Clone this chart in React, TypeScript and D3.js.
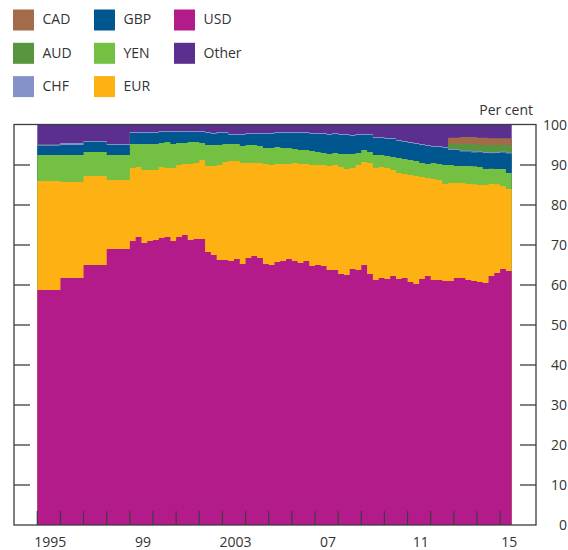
import React from "react";
import * as d3 from "d3";

const periods = [
  "1995", "1996", "1997", "1998",
  "1999Q1", "1999Q2", "1999Q3", "1999Q4", "2000Q1", "2000Q2", "2000Q3", "2000Q4",
  "2001Q1", "2001Q2", "2001Q3", "2001Q4", "2002Q1", "2002Q2", "2002Q3", "2002Q4",
  "2003Q1", "2003Q2", "2003Q3", "2003Q4", "2004Q1", "2004Q2", "2004Q3", "2004Q4",
  "2005Q1", "2005Q2", "2005Q3", "2005Q4", "2006Q1", "2006Q2", "2006Q3", "2006Q4",
  "2007Q1", "2007Q2", "2007Q3", "2007Q4", "2008Q1", "2008Q2", "2008Q3", "2008Q4",
  "2009Q1", "2009Q2", "2009Q3", "2009Q4", "2010Q1", "2010Q2", "2010Q3", "2010Q4",
  "2011Q1", "2011Q2", "2011Q3", "2011Q4", "2012Q1", "2012Q2", "2012Q3", "2012Q4",
  "2013Q1", "2013Q2", "2013Q3", "2013Q4", "2014Q1", "2014Q2", "2014Q3", "2014Q4",
  "2015Q1", "2015Q2",
];

const usd = [
  58.75, 61.75, 65.0, 69.0,
  71.0, 72.0, 70.5, 71.0, 71.25, 71.75, 72.0, 71.0,
  72.0, 72.5, 71.25, 71.5, 71.5, 68.25, 67.5, 66.25,
  66.25, 66.0, 66.5, 65.25, 66.75, 67.25, 66.75, 65.25,
  65.0, 65.75, 66.0, 66.5, 66.0, 65.5, 66.0, 64.75,
  65.0, 64.75, 63.75, 63.75, 62.75, 62.5, 64.0, 63.75,
  65.0, 62.75, 61.25, 61.75, 61.5, 62.25, 61.5, 61.75,
  60.75, 60.25, 61.5, 62.25, 61.25, 61.25, 61.0, 61.0,
  61.75, 61.75, 61.25, 61.0, 60.75, 60.5, 62.25, 63.0,
  64.0, 63.5,
];
const eur = [
  27.25, 24.0, 22.25, 17.25,
  18.25, 17.5, 18.25, 17.75, 17.5, 17.75, 17.25, 18.25,
  18.0, 17.75, 19.0, 19.0, 19.75, 21.5, 22.25, 23.75,
  24.5, 25.0, 24.5, 25.25, 23.75, 23.25, 23.75, 25.0,
  25.0, 24.5, 24.25, 23.75, 24.5, 24.75, 24.25, 25.25,
  25.0, 25.25, 26.0, 26.25, 26.75, 26.5, 25.25, 26.25,
  25.75, 27.75, 28.0, 27.75, 27.75, 26.5, 26.5, 26.0,
  26.75, 27.0, 25.5, 24.5, 25.25, 25.0, 24.25, 24.5,
  23.75, 23.75, 24.0, 24.2, 24.25, 24.5, 23.0, 22.2,
  20.75, 20.5,
];
const yen = [
  6.5, 6.75, 6.0, 6.25,
  6.0, 5.75, 6.5, 6.5, 6.5, 6.0, 6.5, 6.0,
  5.5, 5.25, 5.5, 5.25, 4.25, 5.25, 5.25, 5.0,
  4.5, 4.25, 4.25, 4.25, 4.5, 4.5, 4.25, 4.0,
  4.25, 4.25, 4.0, 4.0, 3.5, 3.5, 3.5, 3.5,
  3.25, 3.0, 3.0, 3.0, 3.25, 3.75, 3.5, 3.0,
  3.0, 2.75, 3.25, 3.0, 3.0, 3.25, 3.75, 3.75,
  3.75, 3.75, 3.5, 3.5, 4.0, 4.0, 4.75, 4.5,
  4.25, 4.25, 4.5, 4.5, 4.5, 4.0, 3.8, 3.8,
  4.25, 4.0,
];
const gbp = [
  2.3, 2.5, 2.5, 2.5,
  2.75, 2.75, 2.75, 2.75, 2.75, 2.75, 2.5, 3.0,
  2.75, 2.75, 2.5, 2.5, 2.75, 3.0, 2.75, 3.0,
  2.75, 2.25, 2.25, 2.75, 2.75, 2.75, 3.0, 3.5,
  3.5, 3.5, 3.75, 3.75, 4.0, 4.25, 4.25, 4.25,
  4.5, 4.75, 4.75, 4.75, 4.75, 4.75, 4.5, 4.5,
  3.75, 4.25, 4.25, 4.25, 4.25, 4.5, 4.25, 4.25,
  4.25, 4.25, 4.5, 4.5, 4.0, 4.25, 4.25, 3.75,
  4.0, 3.6, 3.6, 3.4, 3.7, 4.0, 3.9, 4.0,
  4.1, 4.9,
];
const chf = [
  0.25, 0.5, 0.25, 0.25,
  0.25, 0.25, 0.25, 0.25, 0.25, 0.25, 0.25, 0.25,
  0.25, 0.25, 0.25, 0.25, 0.25, 0.25, 0.25, 0.25,
  0.25, 0.25, 0.25, 0.25, 0.25, 0.25, 0.25, 0.25,
  0.25, 0.25, 0.25, 0.25, 0.25, 0.25, 0.25, 0.25,
  0.25, 0.25, 0.25, 0.25, 0.25, 0.25, 0.25, 0.25,
  0.25, 0.25, 0.25, 0.25, 0.25, 0.25, 0.25, 0.25,
  0.25, 0.25, 0.25, 0.25, 0.25, 0.25, 0.25, 0.25,
  0.25, 0.25, 0.25, 0.25, 0.25, 0.25, 0.25, 0.25,
  0.25, 0.25,
];
const aud = [
  0, 0, 0, 0,
  0, 0, 0, 0, 0, 0, 0, 0,
  0, 0, 0, 0, 0, 0, 0, 0,
  0, 0, 0, 0, 0, 0, 0, 0,
  0, 0, 0, 0, 0, 0, 0, 0,
  0, 0, 0, 0, 0, 0, 0, 0,
  0, 0, 0, 0, 0, 0, 0, 0,
  0, 0, 0, 0, 0, 0, 0, 1.33,
  1.33, 1.57, 1.57, 1.82, 1.55, 1.75, 1.8, 1.75,
  1.65, 1.85,
];
const cad = [
  0, 0, 0, 0,
  0, 0, 0, 0, 0, 0, 0, 0,
  0, 0, 0, 0, 0, 0, 0, 0,
  0, 0, 0, 0, 0, 0, 0, 0,
  0, 0, 0, 0, 0, 0, 0, 0,
  0, 0, 0, 0, 0, 0, 0, 0,
  0, 0, 0, 0, 0, 0, 0, 0,
  0, 0, 0, 0, 0, 0, 0, 1.5,
  1.5, 1.83, 1.83, 1.83, 1.83, 1.83, 1.67, 1.67,
  1.67, 1.67,
];
const other = [
  4.95, 4.5, 4.0, 4.75,
  1.75, 1.75, 1.75, 1.75, 1.75, 1.5, 1.5, 1.5,
  1.5, 1.5, 1.5, 1.5, 1.5, 1.75, 2.0, 1.75,
  1.75, 2.25, 2.25, 2.25, 2.0, 2.0, 2.0, 2.0,
  2.0, 1.75, 1.75, 1.75, 1.75, 1.75, 1.75, 2.0,
  2.0, 2.0, 2.25, 2.0, 2.25, 2.25, 2.5, 2.25,
  2.25, 2.25, 3.0, 3.0, 3.25, 3.25, 3.75, 4.0,
  4.25, 4.5, 4.75, 5.0, 5.25, 5.25, 5.5, 3.17,
  3.17, 3.0, 3.0, 3.0, 3.17, 3.17, 3.33, 3.33,
  3.33, 3.33,
];

const seriesKeys = ["USD", "EUR", "YEN", "GBP", "CHF", "AUD", "CAD", "Other"];
const seriesValues: Record<string, number[]> = {
  USD: usd, EUR: eur, YEN: yen, GBP: gbp, CHF: chf, AUD: aud, CAD: cad, Other: other,
};
const colors: Record<string, string> = {
  USD: "#B31B8B",
  EUR: "#FDB113",
  YEN: "#74C043",
  GBP: "#00568E",
  CHF: "#8592CA",
  AUD: "#58953F",
  CAD: "#A46B4B",
  Other: "#5B2F8F",
};
const legendRows = [["CAD", "GBP", "USD"], ["AUD", "YEN", "Other"], ["CHF", "EUR"]];

const yTicks = [0, 10, 20, 30, 40, 50, 60, 70, 80, 90, 100];
const xTickYears = d3.range(1995, 2016);
const xLabels = [
  { year: 1995, text: "1995" },
  { year: 1999, text: "99" },
  { year: 2003, text: "2003" },
  { year: 2007, text: "07" },
  { year: 2011, text: "11" },
  { year: 2015, text: "15" },
];

function periodSpan(p: string): [number, number] {
  const m = p.match(/^(\d{4})(?:Q(\d))?$/)!;
  const yr = +m[1];
  if (!m[2]) return [yr, yr + 1];
  const s = yr + (+m[2] - 1) / 4;
  return [s, s + 0.25];
}

export default function App() {
  const W = 568, H = 550;
  const left = 14, right = 536, top = 124.5, bottom = 525;
  const x = d3.scaleLinear().domain([1995, 2015.5]).range([37.3, 511.7]);
  const y = d3.scaleLinear().domain([0, 100]).range([525, 125]);

  const rows = periods.map((p, i) => {
    const r: any = { p };
    seriesKeys.forEach((k) => (r[k] = seriesValues[k][i]));
    return r;
  });
  const spans = periods.map(periodSpan);
  const stacked = d3.stack<any>().keys(seriesKeys)(rows);
  const area = d3
    .area<[number, number]>()
    .x((d) => x(d[0]))
    .y0(y(0))
    .y1((d) => y(d[1]));

  const layers = stacked.map((layer) => {
    const pts: [number, number][] = [];
    layer.forEach((d, i) => {
      const [s, e] = spans[i];
      pts.push([s, d[1]], [e, d[1]]);
    });
    return { key: layer.key, d: area(pts) || "" };
  });

  const font = "'Open Sans', 'Noto Sans', sans-serif";
  const textColor = "#333";
  const axisColor = "#3d3d3d";

  return (
    <svg
      width={W}
      height={H}
      style={{ position: "absolute", left: 0, top: 0, background: "#fff" }}
      fontFamily={font}
    >
      {/* legend */}
      {legendRows.map((row, ri) =>
        row.map((k, ci) => {
          const sx = [13, 94, 174][ci];
          const sy = 9.5 + ri * 33.3;
          return (
            <g key={k}>
              <rect x={sx} y={sy} width={21} height={21} fill={colors[k]} />
              <text
                x={sx + 29.5}
                y={sy + 10}
                dy="0.35em"
                fontSize={14}
                fill={textColor}
              >
                {k}
              </text>
            </g>
          );
        })
      )}

      {/* data layers, painted top-down so no seams */}
      {layers
        .slice()
        .reverse()
        .map((l) => (
          <path key={l.key} d={l.d} fill={colors[l.key]} />
        ))}

      {/* frame */}
      <rect
        x={left}
        y={top}
        width={right - left}
        height={bottom - top}
        fill="none"
        stroke={axisColor}
        strokeWidth={1.3}
      />

      {/* y ticks both sides */}
      {yTicks
        .filter((v) => v > 0 && v < 100)
        .map((v) => (
          <g key={"yt" + v}>
            <line x1={left} x2={left + 16} y1={y(v)} y2={y(v)} stroke={axisColor} strokeWidth={1.3} />
            <line x1={right - 16} x2={right} y1={y(v)} y2={y(v)} stroke={axisColor} strokeWidth={1.3} />
          </g>
        ))}
      {yTicks.map((v) => (
        <text
          key={"yl" + v}
          x={567}
          y={y(v)}
          dy="0.35em"
          textAnchor="end"
          fontSize={14}
          fill={textColor}
        >
          {v}
        </text>
      ))}
      <text x={533} y={115} textAnchor="end" fontSize={14} fill={textColor}>
        Per cent
      </text>

      {/* x ticks */}
      {xTickYears.map((yr) => (
        <line
          key={"xt" + yr}
          x1={x(yr)}
          x2={x(yr)}
          y1={bottom}
          y2={bottom - 14}
          stroke={axisColor}
          strokeWidth={1.2}
        />
      ))}
      {xLabels.map((l) => (
        <text
          key={"xl" + l.year}
          x={l.year === 2015 ? x(l.year + 0.5) - 2.5 : x(l.year + 0.5) + 1.5}
          y={547}
          textAnchor="middle"
          fontSize={14}
          fill={textColor}
        >
          {l.text}
        </text>
      ))}
    </svg>
  );
}
